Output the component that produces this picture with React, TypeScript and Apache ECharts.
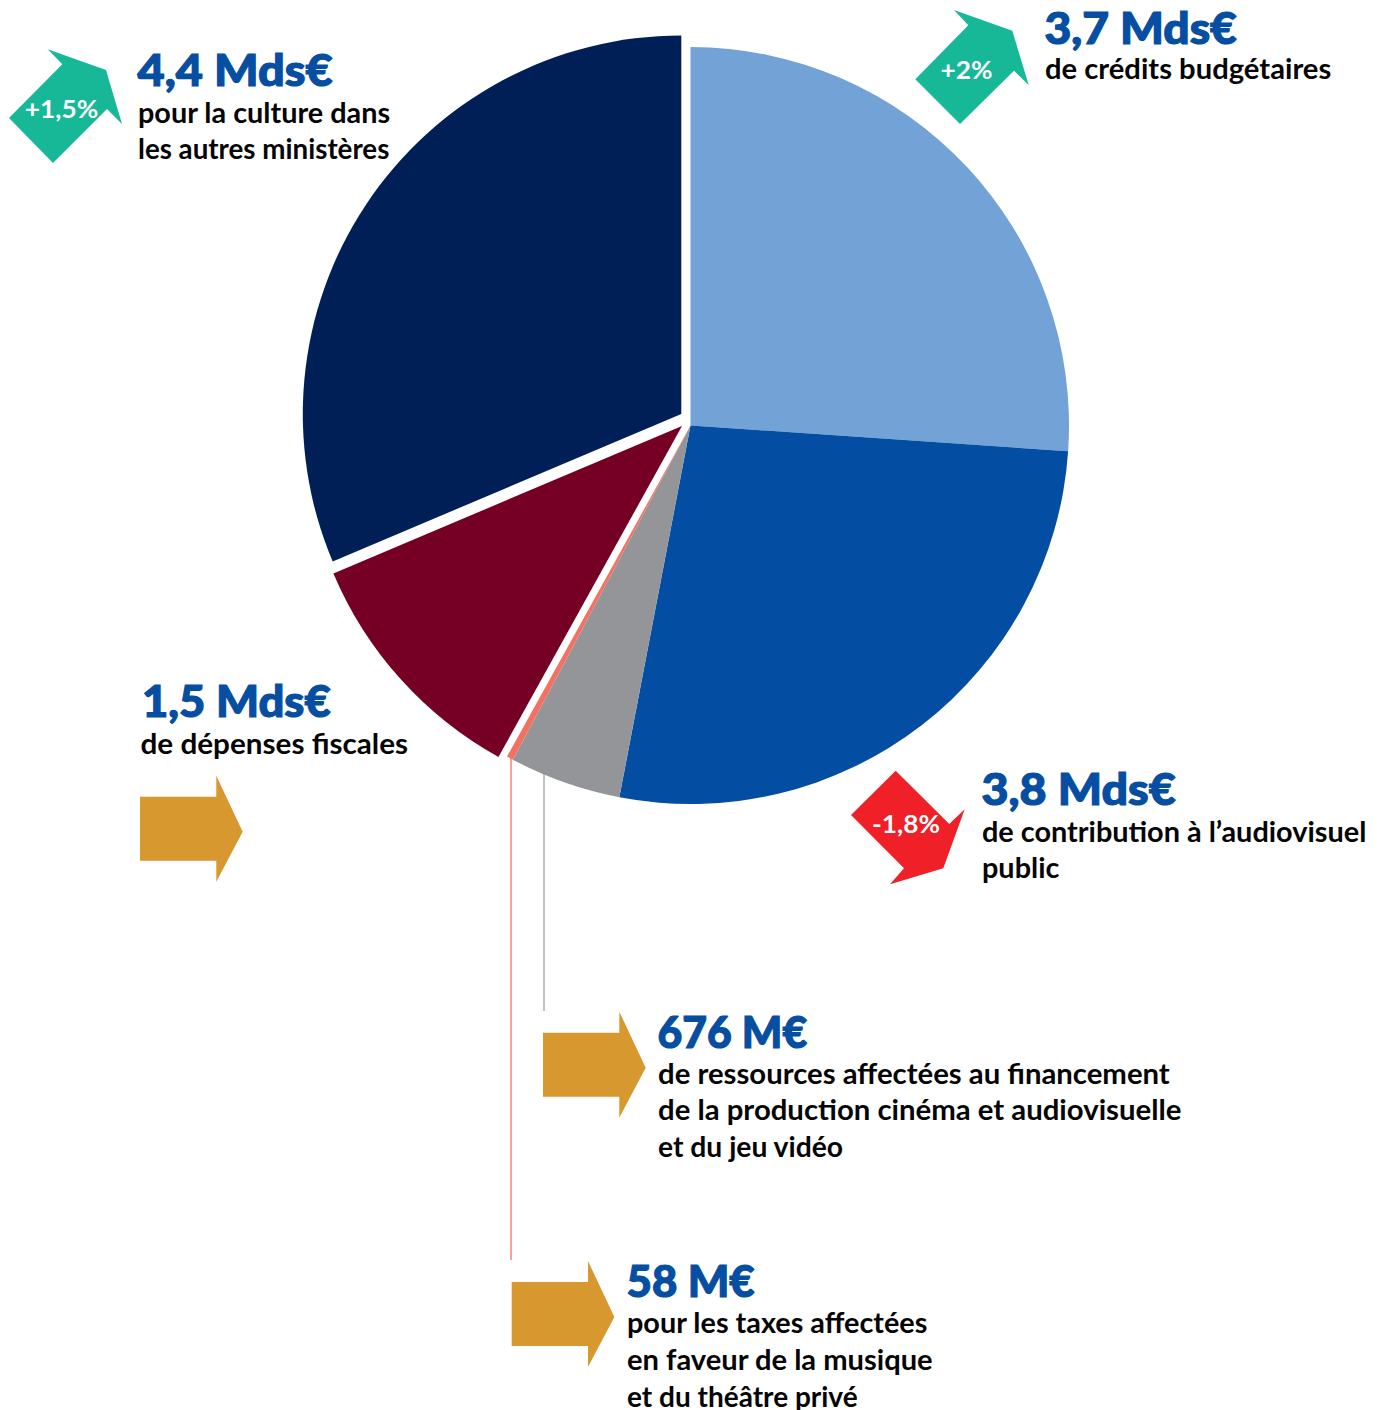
import React, { useEffect, useRef } from "react";
import * as echarts from "echarts";

const categories = [
  "Crédits budgétaires",
  "Contribution à l’audiovisuel public",
  "Ressources affectées cinéma, audiovisuel, jeu vidéo",
  "Taxes affectées musique et théâtre privé",
  "Dépenses fiscales",
  "Culture dans les autres ministères",
];
const values = [3.7, 3.82, 0.676, 0.04, 1.5, 4.45];
const colors = ["#72A2D6", "#034EA2", "#939598", "#F37163", "#760025", "#001F56"];

const FONT = "Lato, sans-serif";
const TITLE_BLUE = "#064EA2";
const TEAL = "#17B897";
const RED = "#EF2027";
const GOLD = "#D89830";

const titles = ["4,4 Mds€", "3,7 Mds€", "3,8 Mds€", "1,5 Mds€", "676 M€", "58 M€"];
const bodies = [
  ["pour la culture dans", "les autres ministères"],
  ["de crédits budgétaires"],
  ["de contribution à l’audiovisuel", "public"],
  ["de dépenses fiscales"],
  ["de ressources affectées au financement", "de la production cinéma et audiovisuelle", "et du jeu vidéo"],
  ["pour les taxes affectées", "en faveur de la musique", "et du théâtre privé"],
];
const badges = ["+1,5%", "+2%", "-1,8%"];

const R = 378.5;
function pie(center: number[], visible: number[]) {
  return {
    type: "pie",
    center,
    radius: [0, R],
    startAngle: 90,
    clockwise: true,
    silent: true,
    label: { show: false },
    labelLine: { show: false },
    data: values.map((value, i) => ({
      name: categories[i],
      value,
      itemStyle: { color: visible.includes(i) ? colors[i] : "transparent" },
    })),
  };
}

function poly(points: number[][], fill: string) {
  return { type: "polygon", shape: { points }, style: { fill }, silent: true };
}
function goldArrow(dx: number, dy: number) {
  const p = [[140, 796.7], [216.3, 796.7], [216.3, 775.7], [242.7, 831.7], [216.3, 881.7], [216.3, 860.7], [140, 860.7]];
  return poly(p.map(([x, y]) => [x + dx, y + dy]), GOLD);
}
function text(t: string, x: number, y: number, size: number, weight: any, fill: string, scaleX = 1, align = "left", strokeW = 0) {
  return {
    type: "text",
    x,
    y,
    scaleX,
    silent: true,
    style: {
      text: t,
      fontFamily: FONT,
      fontSize: size,
      fontWeight: weight,
      fill,
      align,
      verticalAlign: "middle",
      ...(strokeW ? { stroke: fill, lineWidth: strokeW } : {}),
    },
  };
}

const TITLE_SIZE = 44, BODY_SIZE = 28;
function block(i: number, x: number, bodyX: number, yTitle: number, ys: number[], titleSX: number, bodySX: number[]) {
  return [
    text(titles[i], x, yTitle, TITLE_SIZE, 900, TITLE_BLUE, titleSX, "left", 1.2),
    ...bodies[i].map((b, j) => text(b, bodyX, ys[j], BODY_SIZE, 700, "#050505", bodySX[j])),
  ];
}

export default function App() {
  const ref = useRef<HTMLDivElement>(null);
  useEffect(() => {
    const chart = echarts.init(ref.current!, null, { renderer: "svg" });
    chart.setOption({
      animation: false,
      backgroundColor: "#ffffff",
      series: [
        pie([690.5, 425.5], [0, 1, 2, 3]),
        pie([682, 426], [4]),
        pie([681.3, 414], [5]),
      ],
      graphic: [
        { type: "line", shape: { x1: 544, y1: 770, x2: 544, y2: 1011 }, style: { stroke: "#A8A8A8", lineWidth: 1.4 }, silent: true },
        { type: "line", shape: { x1: 511, y1: 757, x2: 511, y2: 1260 }, style: { stroke: "#F58B80", lineWidth: 1.6 }, silent: true },
        poly([[47.7, 49.3], [106, 70], [122, 124], [107, 109], [53, 163], [9, 118], [62.3, 64.3]], TEAL),
        poly([[954, 10], [1012.3, 30.7], [1028.7, 85], [1014, 70.7], [960, 124], [915.3, 79.3], [968.3, 25.3]], TEAL),
        poly([[895.7, 770.7], [851, 815], [904, 868.3], [890, 884.3], [943.3, 868.3], [964.7, 809.3], [949.3, 824]], RED),
        goldArrow(0, 0),
        goldArrow(403, 236),
        goldArrow(371.7, 485.3),
        text(badges[0], 61.5, 108.5, 25, 700, "#fff", 1.05, "center"),
        text(badges[1], 966.5, 69.5, 25, 700, "#fff", 1.05, "center"),
        text(badges[2], 906, 823.5, 25, 700, "#fff", 1.05, "center"),
        ...block(0, 137.5, 138, 69.5, [112.5, 148.5], 1.065, [1.03, 0.99]),
        ...block(1, 1044.5, 1045, 26.5, [68.5], 1.05, [1.043]),
        ...block(2, 981.5, 982, 788.5, [831.5, 867.5], 1.06, [1.031, 1.03]),
        ...block(3, 142, 140.5, 700.5, [743.5], 1.03, [1.06]),
        ...block(4, 657.5, 658, 1030.5, [1073.5, 1109.5, 1146.5], 0.97, [1.047, 1.048, 1.01]),
        ...block(5, 626.5, 627, 1279.5, [1322.5, 1359.5, 1396], 0.995, [1.03, 1.04, 1.0]),
      ],
    });
    return () => chart.dispose();
  }, []);
  return <div ref={ref} style={{ position: "absolute", left: 0, top: 0, width: 1386, height: 1410 }} />;
}
